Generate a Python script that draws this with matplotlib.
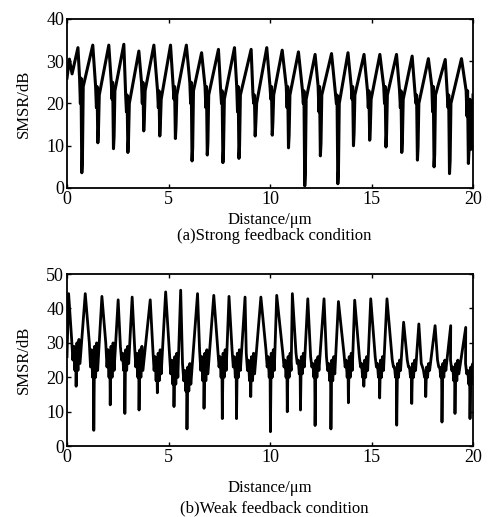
import matplotlib
matplotlib.use("Agg")
import matplotlib.pyplot as plt

plt.rcParams['font.family'] = ['Liberation Serif', 'DejaVu Serif']

# ---- (a) strong feedback: one peak and one deep dip per period ----
top_start_x = [0.0, 0.12, 0.25]
top_start_y = [26.0, 30.5, 27.0]
top_peak_x = [0.54, 1.27, 2.06, 2.80, 3.54, 4.28, 5.10, 5.88, 6.63, 7.46, 8.25, 9.07, 9.84,
              10.60, 11.40, 12.22, 13.03, 13.84, 14.63, 15.41, 16.23, 17.00, 17.80, 18.63, 19.43]
top_peak_y = [33.2, 33.8, 33.8, 34.0, 32.4, 33.8, 33.8, 33.8, 32.0, 32.8, 33.2, 32.8, 33.2,
              32.6, 32.2, 31.6, 31.8, 32.0, 31.6, 31.6, 31.6, 31.2, 30.6, 30.4, 30.6]
top_dip_x = [0.74, 1.53, 2.30, 3.01, 3.79, 4.58, 5.35, 6.17, 6.92, 7.69, 8.48, 9.28, 10.12,
             10.92, 11.72, 12.49, 13.35, 14.12, 14.92, 15.72, 16.50, 17.27, 18.09, 18.85, 19.78]
top_dip_y = [3.6, 10.7, 9.3, 8.4, 13.5, 12.3, 11.7, 6.4, 7.8, 6.0, 7.0, 12.3, 12.5,
             9.5, 0.5, 7.6, 1.0, 10.0, 11.3, 9.7, 8.4, 6.6, 5.0, 3.4, 5.8]
top_v_y = [26, 24, 25, 22, 25, 23, 24, 25, 24, 23, 24, 22, 24,
           24, 23, 24, 22, 24, 23, 24, 23, 22, 24, 22, 23]
top_notch_y = [20, 19, 21, 18, 20, 19, 21, 20, 19, 20, 18, 20, 21,
               19, 20, 18, 20, 21, 19, 20, 19, 20, 18, 19, 17]
top_end_x = [19.86, 19.96, 20.0]
top_end_y = [9.2, 9.2, 22.0]

# ---- (b) weak feedback: tall narrow peak, noisy band, deep spikes ----
bot_peak_x = [0.08, 0.90, 1.72, 2.52, 3.21, 4.10, 4.86, 5.60, 6.43, 7.23, 7.98, 8.77, 9.55,
              10.33, 11.10, 11.86, 12.66, 13.37, 14.17, 14.96, 15.76, 16.58, 17.33, 18.13, 18.90, 19.64]
bot_peak_y = [44.3, 44.3, 43.5, 42.5, 43.3, 42.5, 44.8, 45.3, 44.3, 43.8, 43.5, 43.3, 43.3,
              43.8, 44.3, 42.8, 42.8, 42.0, 42.4, 42.8, 42.8, 36.0, 35.5, 35.0, 35.0, 34.5]
bot_dip_x = [0.45, 1.32, 2.13, 2.85, 3.55, 4.45, 5.27, 5.91, 6.75, 7.65, 8.35, 9.05, 10.02,
             10.85, 11.50, 12.22, 13.00, 13.86, 14.62, 15.40, 16.24, 16.98, 17.67, 18.47, 19.11, 19.85]
bot_dip_y = [17.4, 4.6, 12.0, 9.5, 10.5, 15.5, 11.5, 5.0, 11.0, 8.0, 8.0, 14.4, 4.2,
             10.0, 10.5, 6.0, 5.0, 12.6, 17.4, 14.0, 6.1, 12.4, 14.4, 7.0, 9.5, 8.0]
bot_band_hi = [31, 30, 30, 29, 29, 28, 27, 24, 28, 28, 28, 27, 28,
               27, 27, 26, 26, 27, 26, 26, 25, 25, 24, 25, 25, 24]
bot_band_lo = [22, 20, 20, 22, 20, 19, 18, 16, 19, 20, 20, 19, 20,
               20, 21, 20, 19, 20, 20, 20, 20, 20, 20, 20, 19, 18]

# build the polylines from the read values
tx, ty = list(top_start_x), list(top_start_y)
for i in range(len(top_peak_x)):
    d = top_dip_x[i]
    v = top_v_y[i]
    tx += [top_peak_x[i], d - 0.12, d - 0.08, d - 0.05, d - 0.01, d + 0.02, d + 0.06]
    ty += [top_peak_y[i], v, top_notch_y[i], v, top_dip_y[i], top_dip_y[i] + 3, v - 2]
tx += top_end_x
ty += top_end_y

bx, by = [0.0], [26.0]
for i in range(len(bot_peak_x)):
    d = bot_dip_x[i]
    hi, lo = bot_band_hi[i], bot_band_lo[i]
    bx += [bot_peak_x[i], d - 0.22, d - 0.16, d - 0.11, d - 0.06, d - 0.02, d,
           d + 0.04, d + 0.09, d + 0.14, d + 0.19]
    by += [bot_peak_y[i], hi, lo + 3, hi - 2, lo, hi - 3, bot_dip_y[i],
           hi - 1, lo, hi, lo + 2]

fig = plt.figure(figsize=(4.94, 5.17), dpi=100)
ax1 = fig.add_axes([0.1356, 0.6364, 0.822, 0.327])
ax2 = fig.add_axes([0.1356, 0.137, 0.822, 0.333])

ax1.plot(tx, ty, color='black', lw=2.2)
ax2.plot(bx, by, color='black', lw=2.0)

ax1.set_ylim(0, 40)
ax1.set_yticks([0, 10, 20, 30, 40])
ax2.set_ylim(0, 50)
ax2.set_yticks([0, 10, 20, 30, 40, 50])

for ax in (ax1, ax2):
    ax.set_xlim(0, 20)
    ax.set_xticks([0, 5, 10, 15, 20])
    ax.tick_params(direction='in', top=True, right=True, length=3, width=1,
                   labelsize=13, pad=2)
    for s in ax.spines.values():
        s.set_linewidth(1.3)
    ax.set_ylabel('SMSR/dB', fontsize=12, labelpad=10)

ax1.set_xlabel('Distance/μm', fontsize=12, labelpad=3)
ax2.set_xlabel('Distance/μm', fontsize=12, labelpad=10)

fig.text(0.555, 0.5435, '(a)Strong feedback condition', ha='center', va='center', fontsize=12)
fig.text(0.555, 0.016, '(b)Weak feedback condition', ha='center', va='center', fontsize=12)

fig.savefig('out.png', dpi=100)
